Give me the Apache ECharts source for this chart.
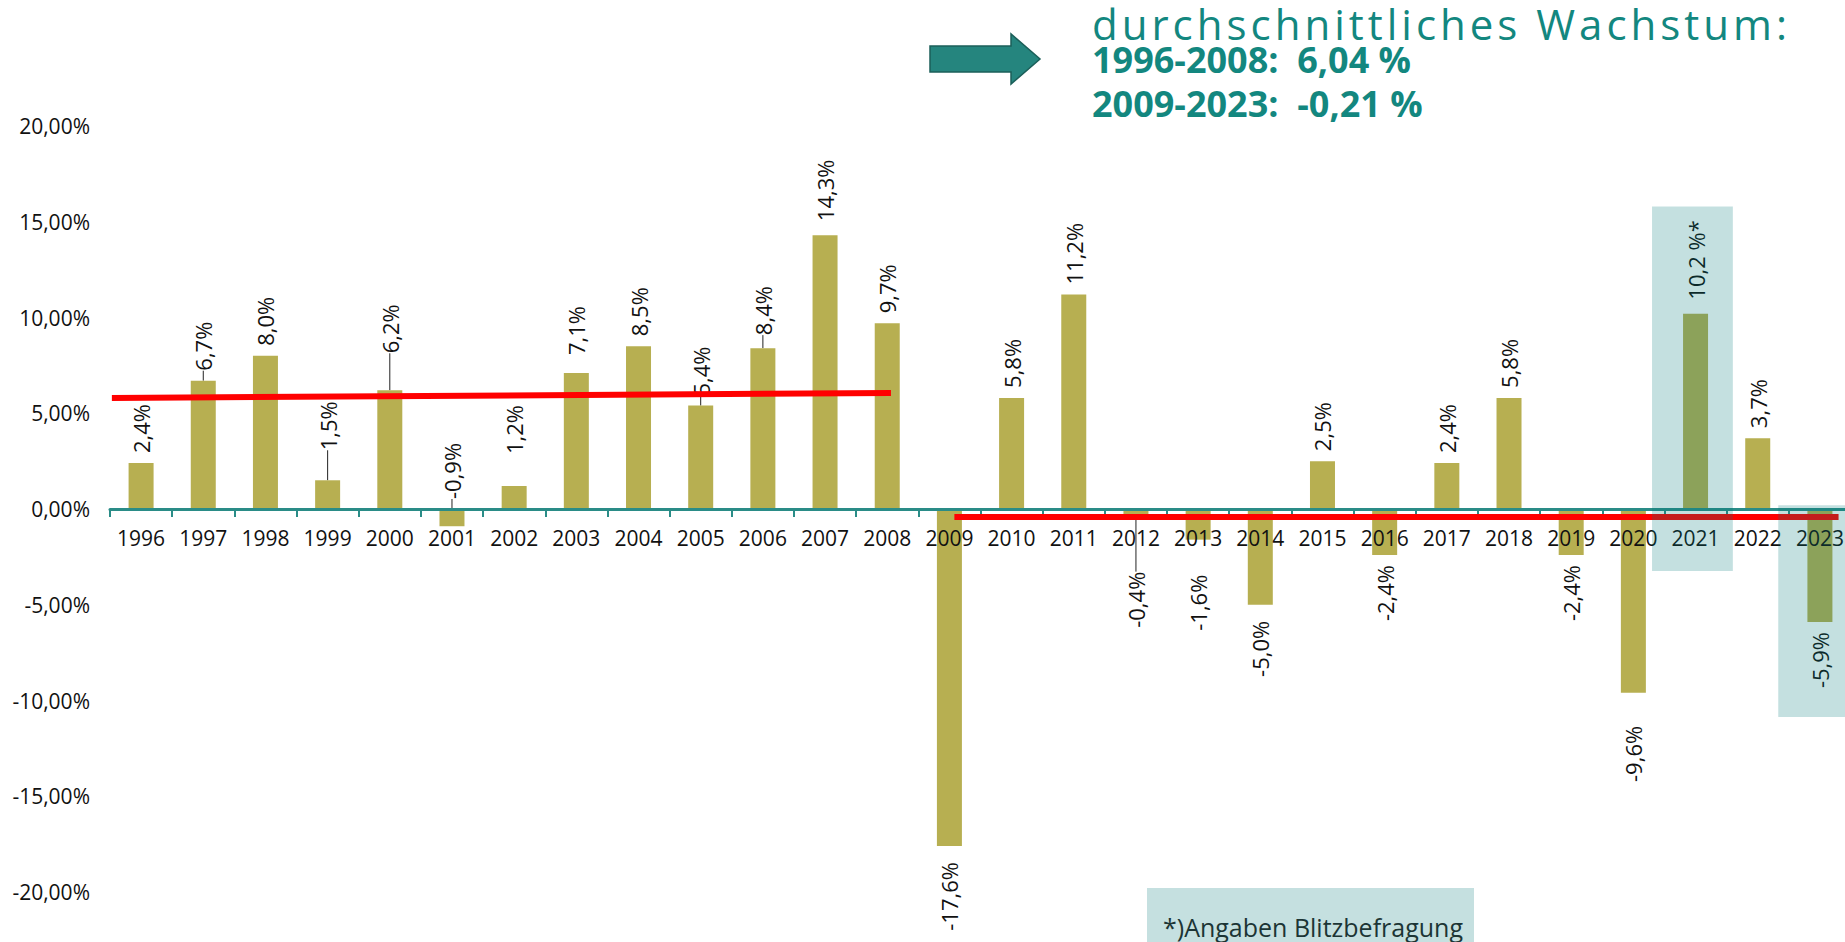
<!DOCTYPE html>
<html>
<head>
<meta charset="utf-8">
<script src="https://cdn.jsdelivr.net/npm/echarts@6/dist/echarts.min.js"></script>
<style>
html,body{margin:0;padding:0;background:#fff;}
#c{width:1845px;height:942px;}
</style>
</head>
<body>
<div id="c"></div>
<script>
// ---- data ----
const years = ['1996','1997','1998','1999','2000','2001','2002','2003','2004','2005','2006','2007','2008','2009','2010','2011','2012','2013','2014','2015','2016','2017','2018','2019','2020','2021','2022','2023'];
const growth = [2.4, 6.7, 8.0, 1.5, 6.2, -0.9, 1.2, 7.1, 8.5, 5.4, 8.4, 14.3, 9.7, -17.6, 5.8, 11.2, -0.4, -1.6, -5.0, 2.5, -2.4, 2.4, 5.8, -2.4, -9.6, 10.2, 3.7, -5.9];
const growthLabels = ['2,4%','6,7%','8,0%','1,5%','6,2%','-0,9%','1,2%','7,1%','8,5%','5,4%','8,4%','14,3%','9,7%','-17,6%','5,8%','11,2%','-0,4%','-1,6%','-5,0%','2,5%','-2,4%','2,4%','5,8%','-2,4%','-9,6%','10,2 %*','3,7%','-5,9%'];
const yTicks = [-20, -15, -10, -5, 0, 5, 10, 15, 20];
// average trend lines (x in category units, y in %)
const avg1X = [0.03, 12.56];
const avg1Y = [5.8, 6.06];
const avg2X = [13.58, 27.8];
const avg2Y = [-0.42, -0.42];
// highlight boxes (x in category units, y in %)
const box2021X = [24.8, 26.1];
const box2021Y = [-3.24, 15.8];
const box2023X = [26.83, 28.3];
const box2023Y = [-10.86, 0.2];
const titleLines = ['durchschnittliches Wachstum:', '1996-2008:  6,04 %', '2009-2023:  -0,21 %'];
const footnote = '*)Angaben Blitzbefragung';

// ---- label layout tweaks (manual label moves in the original) ----
const labelNudge = {'1999': 20, '2000': 27, '2002': 22, '2003': 8, '2006': 3, '2007': 4, '2009': 6, '2012': 45, '2013': 25, '2014': 6, '2020': 23, '2021': 4};
const labelWithLine = {'1997': true, '1999': true, '2000': true, '2001': true, '2005': true, '2006': true, '2012': true};
const labelAboveAxis = {'2001': true};

const FONT = "'Open Sans', sans-serif";
const TEAL = '#2a8c87';
const OLIVE = '#b7af51';
const TITLE = '#13877f';

const barData = growth.map((v, i) => {
  const y = years[i];
  const nudge = labelNudge[y] || 0;
  const up = v >= 0 || labelAboveAxis[y];
  return {
    value: v,
    label: {
      show: true,
      formatter: growthLabels[i],
      position: up ? 'top' : 'bottom',
      rotate: 90,
      align: up ? 'left' : 'right',
      verticalAlign: 'middle',
      distance: 10 + nudge
    },
    labelLine: { show: !!labelWithLine[y], lineStyle: { color: '#222', width: 1 } }
  };
});

const chart = echarts.init(document.getElementById('c'), null, { renderer: 'svg' });
chart.setOption({
  animation: false,
  backgroundColor: '#fff',
  textStyle: { fontFamily: FONT },
  grid: { left: 110, width: 1741, top: 126, bottom: 50, containLabel: false, outerBoundsMode: 'none' },
  xAxis: [{
    type: 'category',
    data: years,
    position: 'bottom',
    offset: -383,
    z: 3,
    boundaryGap: true,
    axisLine: { onZero: false, lineStyle: { color: TEAL, width: 3 } },
    axisTick: { show: true, length: 8, lineStyle: { color: TEAL, width: 2 }, alignWithLabel: false },
    axisLabel: { color: '#111', fontSize: 21, fontFamily: FONT, margin: 18, interval: 0 },
    splitLine: { show: false }
  }, {
    type: 'value', min: 0, max: 28, show: false, gridIndex: 0
  }],
  yAxis: {
    type: 'value', min: -20, max: 20, interval: 5,
    axisLine: { show: false }, axisTick: { show: false }, splitLine: { show: false },
    axisLabel: {
      color: '#111', fontSize: 21, fontFamily: FONT, margin: 20,
      formatter: v => yTicks.indexOf(v) >= 0 ? v.toFixed(2).replace('.', ',') + '%' : ''
    }
  },
  series: [{
    type: 'bar',
    data: barData,
    barWidth: 25,
    itemStyle: { color: OLIVE },
    label: { color: '#111', fontSize: 22, fontFamily: FONT },
    z: 2
  }, {
    type: 'line', xAxisIndex: 1,
    data: avg1X.map((x, i) => [x, avg1Y[i]]),
    symbol: 'none', lineStyle: { color: '#ff0000', width: 6 }, z: 4
  }, {
    type: 'line', xAxisIndex: 1,
    data: avg2X.map((x, i) => [x, avg2Y[i]]),
    symbol: 'none', lineStyle: { color: '#ff0000', width: 6 }, z: 4,
    markArea: {
      silent: true,
      z: 10,
      itemStyle: { color: 'rgba(0,122,122,0.23)' },
      data: [
        [{ coord: [box2021X[0], box2021Y[1]] }, { coord: [box2021X[1], box2021Y[0]] }],
        [{ coord: [box2023X[0], box2023Y[1]] }, { coord: [box2023X[1], box2023Y[0]] }]
      ]
    }
  }],
  graphic: [
    { type: 'polygon', shape: { points: [[930, 46], [1011, 46], [1011, 34], [1040, 59], [1011, 84], [1011, 72], [930, 72]] },
      style: { fill: '#25857e', stroke: '#1b5f59', lineWidth: 1.5 } },
    { type: 'text', left: 1092, top: 2, style: { text: titleLines[0], fill: TITLE, font: "42px " + FONT, lineHeight: 38 } },
    { type: 'text', left: 1092, top: 41, style: { text: titleLines[1], fill: TITLE, font: "bold 36px " + FONT } },
    { type: 'text', left: 1092, top: 85, style: { text: titleLines[2], fill: TITLE, font: "bold 36px " + FONT } },
    { type: 'rect', shape: { x: 1147, y: 888, width: 327, height: 70 }, style: { fill: '#c5e0e0' } },
    { type: 'text', left: 1163, top: 914, style: { text: footnote, fill: '#1c3535', font: "25px " + FONT } }
  ]
});

// the original title line is set with wide letter spacing
function spaceTitle() {
  document.querySelectorAll('#c text').forEach(t => {
    if (t.textContent === titleLines[0]) t.style.letterSpacing = '4px';
  });
}
spaceTitle();
chart.on('finished', spaceTitle);
</script>
</body>
</html>
